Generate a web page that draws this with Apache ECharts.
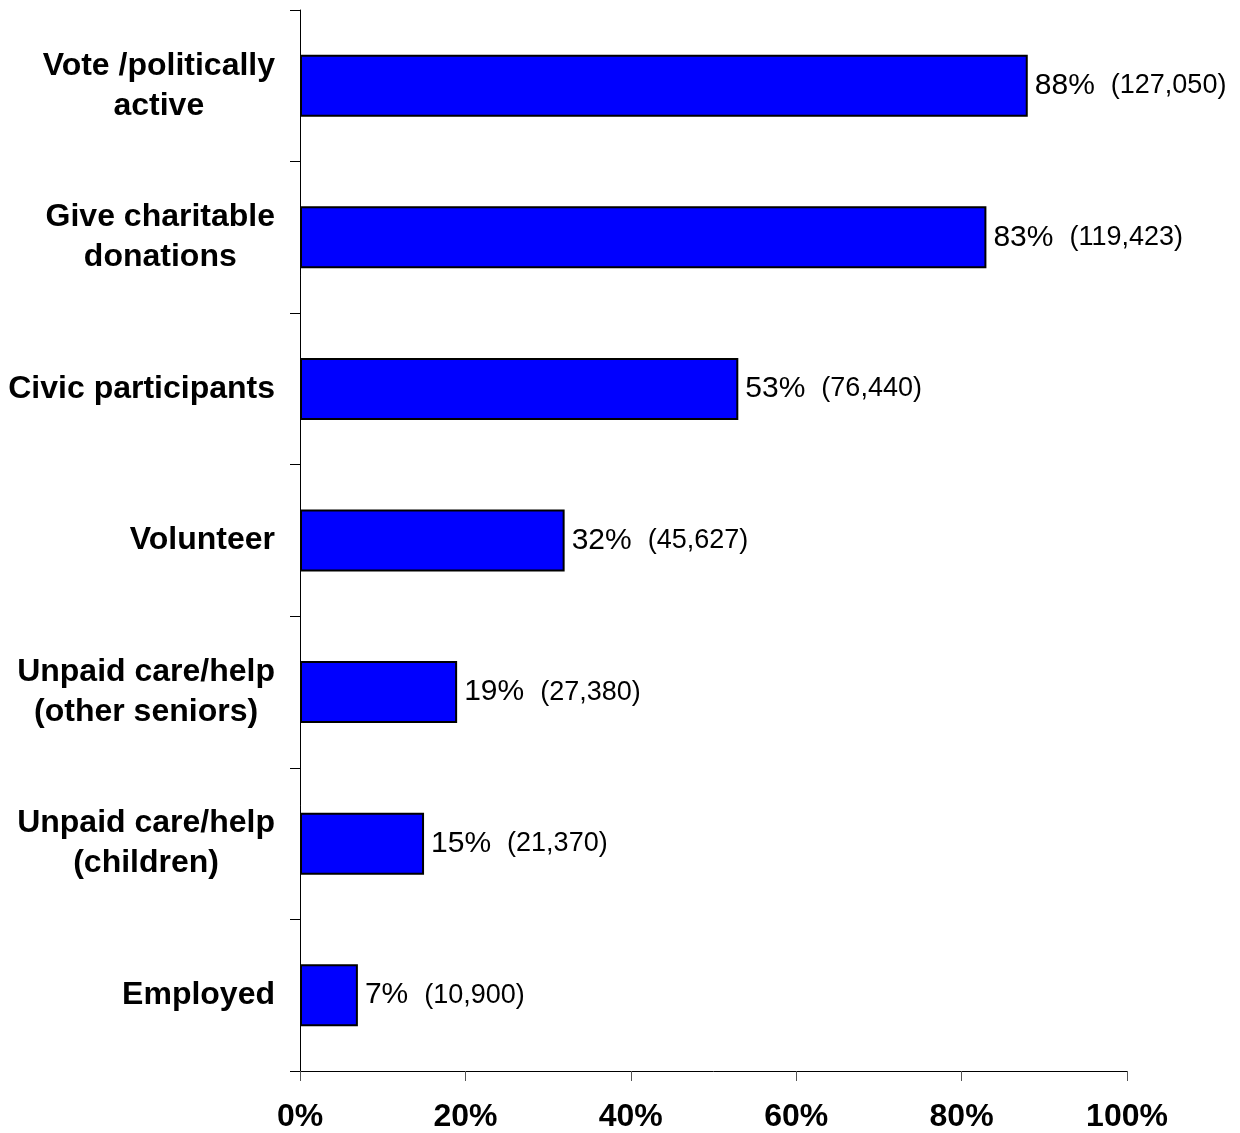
<!DOCTYPE html>
<html>
<head>
<meta charset="utf-8">
<script src="https://cdn.jsdelivr.net/npm/echarts@6/dist/echarts.min.js"></script>
<style>html,body{margin:0;padding:0;background:#fff}#c{width:1240px;height:1133px}</style>
</head>
<body>
<div id="c"></div>
<script>
const categories = ["Vote /politically\nactive", "Give charitable\ndonations", "Civic participants", "Volunteer", "Unpaid care/help\n(other seniors)", "Unpaid care/help\n(children)", "Employed"];
const percents = [88, 83, 53, 32, 19, 15, 7];
const counts = ["127,050", "119,423", "76,440", "45,627", "27,380", "21,370", "10,900"];
const xTicks = [0, 20, 40, 60, 80, 100];

const chart = echarts.init(document.getElementById('c'));
const font = 'Liberation Sans, Arial, sans-serif';
chart.setOption({
  animation: false,
  backgroundColor: '#fff',
  grid: { left: 300, right: 113, top: 10, bottom: 60, containLabel: false },
  xAxis: {
    type: 'value', min: xTicks[0], max: xTicks[xTicks.length - 1], interval: 20,
    axisLine: { show: true, lineStyle: { color: '#000', width: 1 } },
    axisTick: { show: true, length: 10, lineStyle: { color: '#555' } },
    splitLine: { show: false },
    axisLabel: { formatter: '{value}%', fontFamily: font, fontWeight: 'bold', fontSize: 32, color: '#000', margin: 30 }
  },
  yAxis: {
    type: 'category', data: categories, inverse: true,
    axisLine: { show: true, lineStyle: { color: '#000', width: 1 } },
    axisTick: { show: true, length: 10, interval: 0, lineStyle: { color: '#000' } },
    axisLabel: {
      margin: 25, interval: 0, color: '#000',
      formatter: v => v.split('\n').map(l => '{a|' + l + '}').join('\n'),
      rich: { a: { fontFamily: font, fontWeight: 'bold', fontSize: 32, lineHeight: 40, align: 'center', color: '#000' } }
    }
  },
  series: [{
    type: 'bar', data: percents, barWidth: 62,
    itemStyle: { color: '#0000ff', borderColor: '#000', borderWidth: 2 },
    label: {
      show: true, position: 'right', distance: 7,
      formatter: p => '{p|' + p.value + '%}{c|(' + counts[p.dataIndex] + ')}',
      rich: {
        p: { fontFamily: font, fontSize: 30, color: '#000' },
        c: { fontFamily: font, fontSize: 27, color: '#000', padding: [0, 0, 0, 16] }
      }
    }
  }]
});
</script>
</body>
</html>
